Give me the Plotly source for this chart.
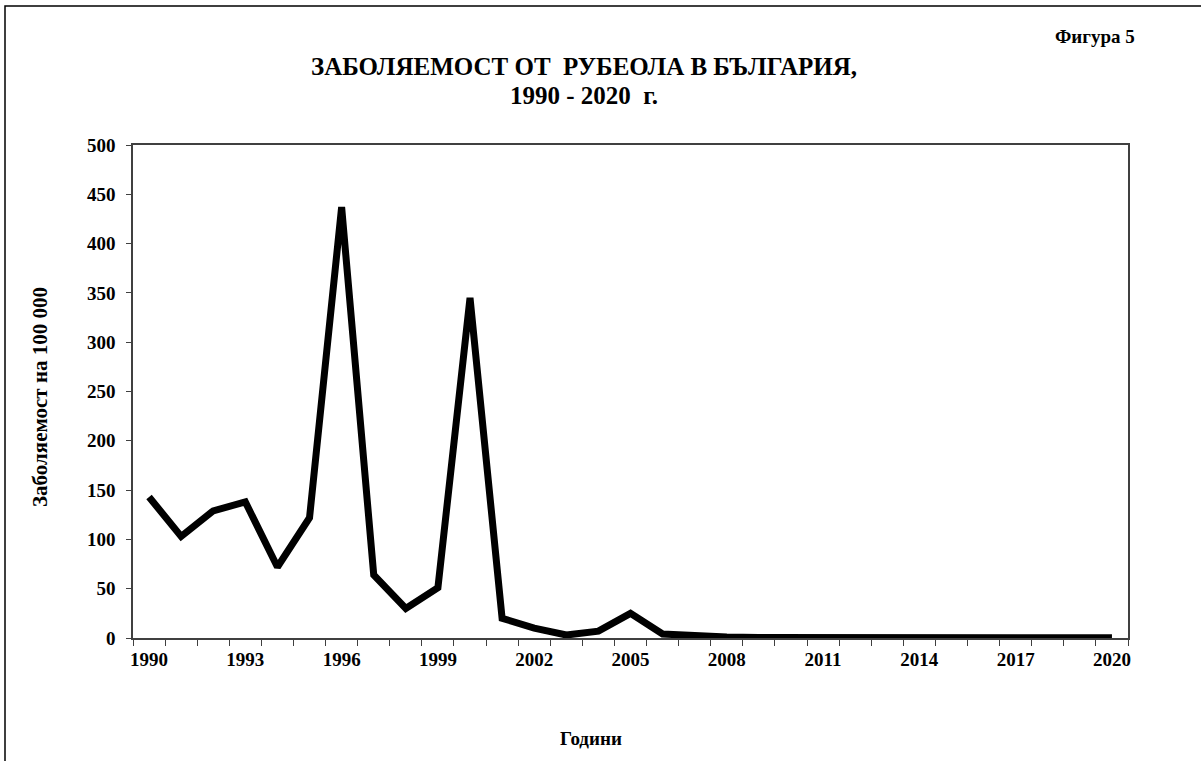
import plotly.graph_objects as go

years = list(range(1990, 2021))
incidence = [143, 103, 129, 138, 72, 122, 437, 64, 30, 51, 345, 20, 10, 3, 7, 25, 4, 2, 1, 0.5,
             0.5, 0.5, 0.5, 0.5, 0.5, 0.5, 0.5, 0.5, 0.5, 0.5, 0.3]
x_tick_labels = [str(y) for y in range(1990, 2021, 3)]
y_ticks = [0, 50, 100, 150, 200, 250, 300, 350, 400, 450, 500]

title_line1 = "ЗАБОЛЯЕМОСТ ОТ  РУБЕОЛА В БЪЛГАРИЯ,"
title_line2 = "1990 - 2020  г."
fig_label = "Фигура 5"
x_title = "Години"
y_title = "Заболяемост на 100 000"

FONT = "Liberation Serif"
W, H = 1201, 761
ML, MR, MT, MB = 133, 73, 145, 123

fig = go.Figure()
fig.add_trace(go.Scatter(x=years, y=incidence, mode="lines",
                         line=dict(color="black", width=7), hoverinfo="skip"))

fig.update_layout(
    width=W, height=H,
    margin=dict(l=ML, r=MR, t=MT, b=MB),
    paper_bgcolor="white", plot_bgcolor="white",
    showlegend=False,
    font=dict(family=FONT, color="black"),
)

fig.update_xaxes(
    range=[1989.5, 2020.5],
    tickvals=[int(v) for v in x_tick_labels], ticktext=x_tick_labels,
    ticks="", showgrid=False, zeroline=False,
    showline=True, linecolor="#404040", linewidth=1.5, mirror=True,
    tickfont=dict(family=FONT, size=19, color="black", weight="bold"),
    minor=dict(tick0=1989.5, dtick=1, ticks="outside", ticklen=6,
               tickcolor="#404040", tickwidth=1.2, showgrid=False),
    ticklabelstandoff=3,
)
fig.update_yaxes(
    range=[0, 500], tickvals=y_ticks,
    ticks="outside", ticklen=5, tickcolor="#404040", tickwidth=1.2,
    showgrid=False, zeroline=False,
    showline=True, linecolor="#404040", linewidth=1.5, mirror=True,
    tickfont=dict(family=FONT, size=19, color="black", weight="bold"),
    ticklabelstandoff=7,
)


def px_to_paper_x(px):
    return (px - ML) / (W - ML - MR)


def px_to_paper_y(py):
    return (H - MB - py) / (H - MT - MB)


annotations = [
    dict(text=title_line1, x=584, y=66, size=25),
    dict(text=title_line2, x=584, y=96, size=25),
    dict(text=fig_label, x=1095, y=36, size=19),
    dict(text=x_title, x=591, y=738, size=19),
    dict(text=y_title, x=40, y=397, size=21, angle=-90),
]
for a in annotations:
    fig.add_annotation(
        text=a["text"], x=px_to_paper_x(a["x"]), y=px_to_paper_y(a["y"]),
        xref="paper", yref="paper", showarrow=False,
        xanchor="center", yanchor="middle",
        textangle=a.get("angle", 0),
        font=dict(family=FONT, color="black", size=a["size"], weight="bold"),
    )

fig.add_shape(type="rect", xref="paper", yref="paper",
              x0=px_to_paper_x(5), x1=px_to_paper_x(1260),
              y0=px_to_paper_y(820), y1=px_to_paper_y(6),
              line=dict(color="black", width=1.5), fillcolor="rgba(0,0,0,0)")

fig.write_html("out.html", config={"displayModeBar": False},
               post_script="document.body.style.margin='0';")
